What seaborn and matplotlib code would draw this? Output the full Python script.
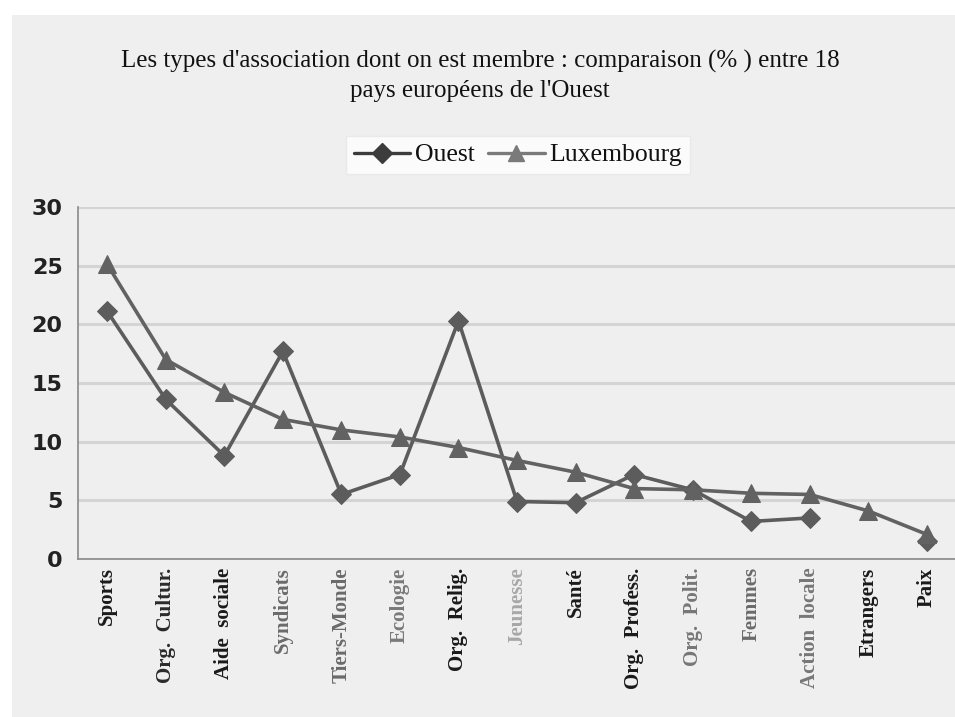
import numpy as np
import pandas as pd
import matplotlib
matplotlib.use("Agg")
import matplotlib.pyplot as plt
from matplotlib.patches import Rectangle
from matplotlib.lines import Line2D
import seaborn as sns

categories = ["Sports", "Org.  Cultur.", "Aide  sociale", "Syndicats", "Tiers-Monde",
              "Ecologie", "Org.  Relig.", "Jeunesse", "Santé", "Org.  Profess.",
              "Org.  Polit.", "Femmes", "Action  locale", "Etrangers", "Paix"]
ouest = [21.1, 13.6, 8.8, 17.7, 5.5, 7.2, 20.3, 4.9, 4.8, 7.2, 5.9, 3.2, 3.5, np.nan, 1.5]
luxembourg = [25.1, 17.0, 14.2, 11.9, 11.0, 10.4, 9.5, 8.4, 7.4, 6.0, 5.9, 5.6, 5.5, 4.1, 2.1]
y_ticks = [0, 5, 10, 15, 20, 25, 30]
title = "Les types d'association dont on est membre : comparaison (% ) entre 18\npays européens de l'Ouest"

# shade of each category label as printed
label_colors = ["#1a1a1a", "#2a2a2a", "#1a1a1a", "#6a6a6a", "#6a6a6a", "#7a7a7a", "#1a1a1a",
                "#a8a8a8", "#1a1a1a", "#1a1a1a", "#777777", "#6a6a6a", "#777777", "#1a1a1a", "#1a1a1a"]

sns.set_theme(style="white")
plt.rcParams["font.family"] = ["Liberation Serif", "DejaVu Serif"]

W, H = 955, 717
fig = plt.figure(figsize=(W / 100, H / 100), dpi=100, facecolor="white")
bg = "#efefef"
fig.patches.append(Rectangle((12 / W, 0), 1 - 12 / W, 1 - 15 / H, transform=fig.transFigure,
                             facecolor=bg, edgecolor="none", zorder=-5))

ax = fig.add_axes([78 / W, 1 - 559 / H, (956 - 78) / W, (559 - 207) / H])
ax.set_zorder(2)
ax.set_facecolor(bg)

idx = np.arange(len(categories))
df = pd.concat([
    pd.DataFrame({"idx": idx, "val": ouest, "serie": "Ouest"}),
    pd.DataFrame({"idx": idx, "val": luxembourg, "serie": "Luxembourg"}),
])
# split each series into runs of consecutive values so gaps stay open
df["run"] = df.groupby("serie")["val"].transform(lambda s: s.isna().cumsum())
df = df.dropna()

line_col = "#5c5c5c"
sns.lineplot(data=df[df.serie == "Ouest"], x="idx", y="val", units="run", estimator=None,
             color=line_col, lw=2.6, marker="D", markersize=10, markeredgecolor=line_col,
             ax=ax, legend=False, zorder=3)
sns.lineplot(data=df[df.serie == "Luxembourg"], x="idx", y="val", units="run", estimator=None,
             color="#626262", lw=2.6, marker="^", markersize=13, markeredgecolor="#626262",
             ax=ax, legend=False, zorder=3)

ax.set_xlim(-0.5, len(categories) - 0.5)
ax.set_ylim(0, 30)
ax.set_yticks(y_ticks)
ax.set_yticklabels([str(t) for t in y_ticks], family="DejaVu Sans", fontweight="bold",
                   fontsize=16, color="#222222")
ax.set_xticks(idx)
ax.set_xticklabels(categories, rotation=90, fontweight="bold", fontsize=15, va="top")
for lab, c in zip(ax.get_xticklabels(), label_colors):
    lab.set_color(c)
ax.tick_params(axis="y", length=0, pad=11)
ax.tick_params(axis="x", length=0, pad=6)
ax.set_xlabel("")
ax.set_ylabel("")

ax.yaxis.grid(True, color="#d4d4d4", lw=2.2)
ax.set_axisbelow(True)
for s in ["top", "right"]:
    ax.spines[s].set_visible(False)
ax.spines["left"].set_color("#8a8a8a")
ax.spines["left"].set_linewidth(1.2)
ax.spines["bottom"].set_color("#8a8a8a")
ax.spines["bottom"].set_linewidth(1.2)

fig.text(480 / W, 1 - 76 / H, title, ha="center", va="center", fontsize=18,
         linespacing=1.45, color="#111111")

handles = [
    Line2D([0], [0], color="#3c3c3c", lw=2.4, marker="D", markersize=10),
    Line2D([0], [0], color="#7a7a7a", lw=2.4, marker="^", markersize=12),
]
leg = fig.legend(handles, ["Ouest", "Luxembourg"], loc="center", bbox_to_anchor=(518 / W, 1 - 155 / H),
                 ncol=2, frameon=True, fontsize=18.5, handlelength=2.2, handletextpad=0.2,
                 columnspacing=0.5, borderpad=0.3, fancybox=False)
leg.get_frame().set_facecolor("white")
leg.get_frame().set_edgecolor("#e6e6e6")
for t in leg.get_texts():
    t.set_color("#111111")

fig.savefig("out.png", dpi=100, facecolor="white")
